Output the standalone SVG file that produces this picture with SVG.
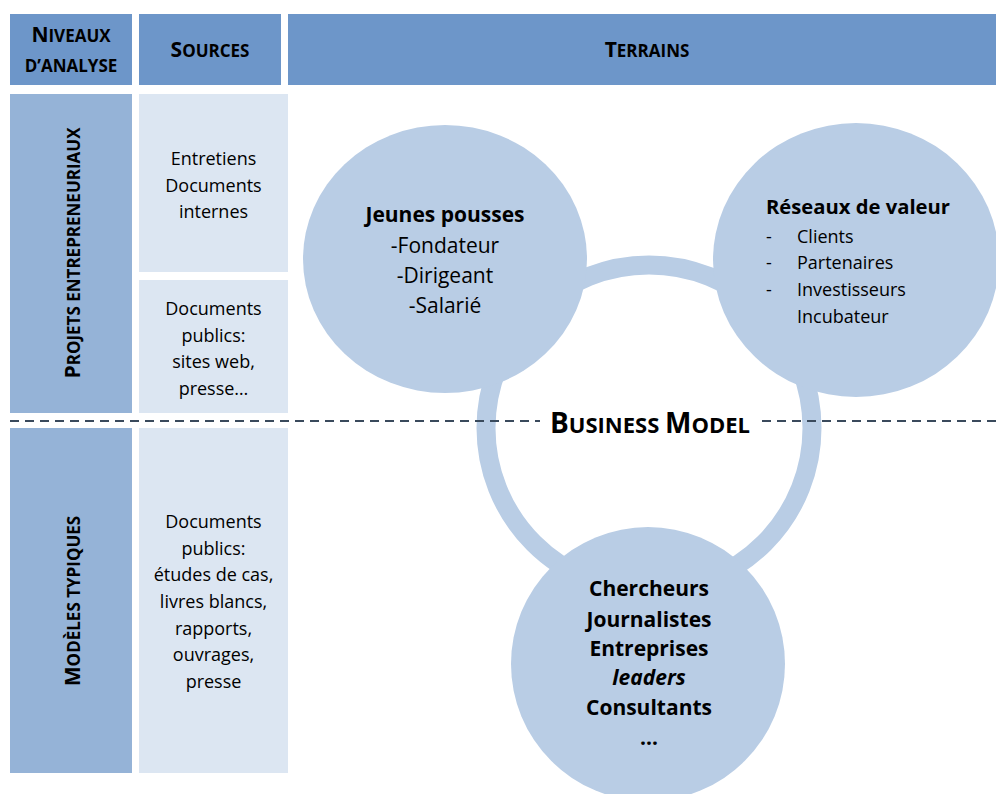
<svg xmlns="http://www.w3.org/2000/svg" width="996" height="794" viewBox="0 0 996 794">
<style>
.hdr{fill:#6d96c9}
.lvl{fill:#95b3d7}
.src{fill:#dce6f2}
.bub{fill:#b9cde5}
text{font-family:"Open Sans","Noto Sans","Liberation Sans",sans-serif;fill:#000}
.sc{font-weight:bold;font-size:17px;text-anchor:middle}
.big{font-size:21px}
.body{font-size:18px;text-anchor:middle}
.ct{font-size:21px;text-anchor:middle}
.b{font-weight:bold}
.li{font-size:18px}
.sep{stroke:#3a4a5c;stroke-width:2;stroke-dasharray:9 6;fill:none}
</style>
<rect width="996" height="794" fill="#fff"/>
<g id="header">
<rect class="hdr" x="10" y="14" width="122" height="71"/>
<rect class="hdr" x="139" y="14" width="142" height="71"/>
<rect class="hdr" x="288" y="14" width="708" height="71"/>
<text class="sc" x="71" y="42"><tspan class="big">N</tspan>IVEAUX</text>
<text class="sc" x="71" y="72">D’ANALYSE</text>
<text class="sc" x="210" y="57"><tspan class="big">S</tspan>OURCES</text>
<text class="sc" x="647" y="57"><tspan class="big">T</tspan>ERRAINS</text>
</g>
<g id="level-projets">
<rect class="lvl" x="10" y="94" width="122" height="319"/>
<text class="sc" transform="translate(80,253) rotate(-90)"><tspan class="big">P</tspan>ROJETS ENTREPRENEURIAUX</text>
</g>
<g id="level-modeles">
<rect class="lvl" x="10" y="428" width="122" height="345"/>
<text class="sc" transform="translate(80,601) rotate(-90)"><tspan class="big">M</tspan>ODÈLES TYPIQUES</text>
</g>
<g id="source-entretiens">
<rect class="src" x="139" y="94" width="149" height="178"/>
<text class="body" x="213.5" y="165">Entretiens</text>
<text class="body" x="213.5" y="191.5">Documents</text>
<text class="body" x="213.5" y="218">internes</text>
</g>
<g id="source-publics">
<rect class="src" x="139" y="280" width="149" height="133"/>
<text class="body" x="213.5" y="315">Documents</text>
<text class="body" x="213.5" y="341.5">publics:</text>
<text class="body" x="213.5" y="368">sites web,</text>
<text class="body" x="213.5" y="394.5">presse…</text>
</g>
<g id="source-modeles">
<rect class="src" x="139" y="428" width="149" height="345"/>
<text class="body" x="213.5" y="528">Documents</text>
<text class="body" x="213.5" y="554.7">publics:</text>
<text class="body" x="213.5" y="581.3">études de cas,</text>
<text class="body" x="213.5" y="608">livres blancs,</text>
<text class="body" x="213.5" y="634.7">rapports,</text>
<text class="body" x="213.5" y="661.3">ouvrages,</text>
<text class="body" x="213.5" y="688">presse</text>
</g>
<g id="connectors">
<circle cx="649" cy="428" r="163" fill="none" stroke="#b9cde5" stroke-width="19"/>
</g>
<g id="jeunes-pousses">
<ellipse class="bub" cx="445" cy="259" rx="142" ry="134"/>
<text class="ct b" x="445" y="222">Jeunes pousses</text>
<text class="ct" x="445" y="253">-Fondateur</text>
<text class="ct" x="445" y="283">-Dirigeant</text>
<text class="ct" x="445" y="313">-Salarié</text>
</g>
<g id="reseaux-de-valeur">
<ellipse class="bub" cx="856" cy="260" rx="143" ry="137"/>
<text class="b" x="766" y="214" font-size="20" textLength="184" lengthAdjust="spacingAndGlyphs">Réseaux de valeur</text>
<text class="li" x="766" y="243">-</text><text class="li" x="797" y="243">Clients</text>
<text class="li" x="766" y="269">-</text><text class="li" x="797" y="269">Partenaires</text>
<text class="li" x="766" y="296">-</text><text class="li" x="797" y="296">Investisseurs</text>
<text class="li" x="797" y="323">Incubateur</text>
</g>
<g id="acteurs">
<ellipse class="bub" cx="648" cy="664" rx="137" ry="137"/>
<text class="ct b" x="649" y="596">Chercheurs</text>
<text class="ct b" x="649" y="627">Journalistes</text>
<text class="ct b" x="649" y="656">Entreprises</text>
<text class="ct b" x="649" y="685" font-style="italic">leaders</text>
<text class="ct b" x="649" y="715">Consultants</text>
<text class="ct b" x="649" y="745">…</text>
</g>
<g id="separator">
<line class="sep" x1="10" y1="421" x2="540" y2="421"/>
<line class="sep" x1="762" y1="421" x2="996" y2="421"/>
<text class="b" x="650" y="433" text-anchor="middle" font-size="22"><tspan font-size="28">B</tspan>USINESS <tspan font-size="28">M</tspan>ODEL</text>
</g>
</svg>
